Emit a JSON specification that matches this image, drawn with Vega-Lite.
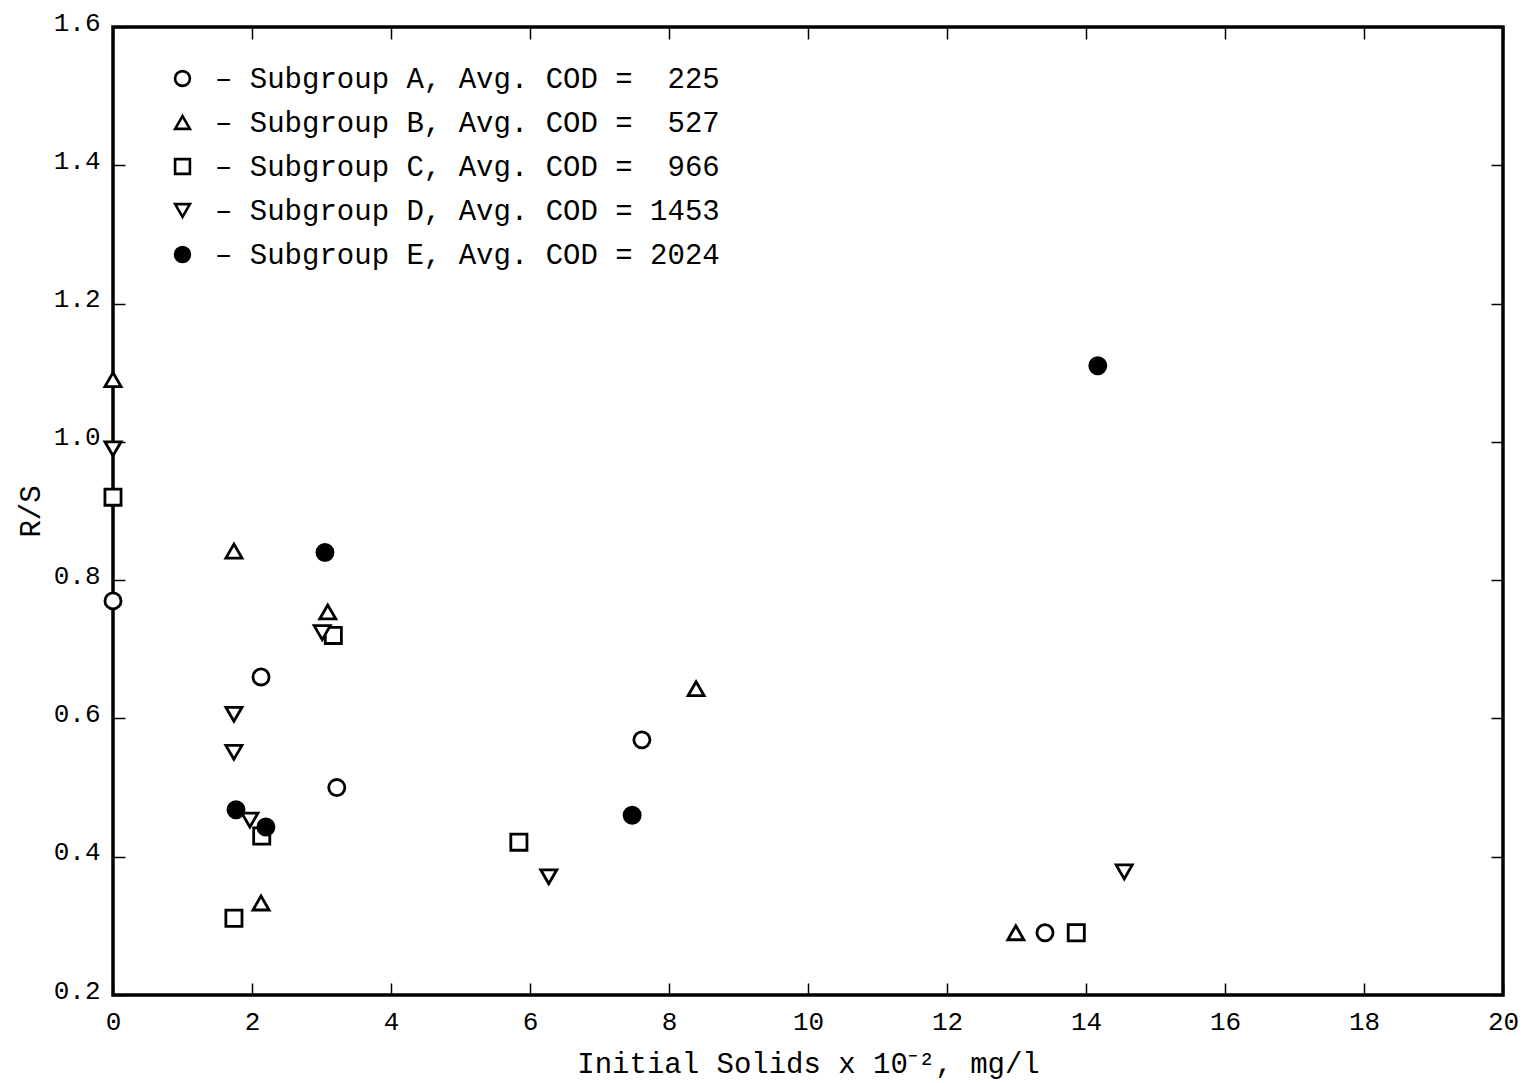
{
  "$schema": "https://vega.github.io/schema/vega-lite/v6.json",
  "autosize": {"type": "none"},
  "width": 1390,
  "height": 968,
  "padding": {"left": 113, "top": 27, "right": 21, "bottom": 88},
  "background": "white",
  "config": {
    "view": {"stroke": "black", "strokeWidth": 3.5},
    "font": "Liberation Mono",
    "axis": {
      "domain": false,
      "grid": false,
      "tickColor": "black",
      "tickWidth": 1.5,
      "tickSize": -12,
      "labelFont": "Liberation Mono",
      "labelFontSize": 26,
      "labelColor": "black",
      "titleFont": "Liberation Mono",
      "titleFontSize": 29,
      "titleFontWeight": "normal",
      "titleColor": "black"
    }
  },
  "data": {
    "values": [
      {"group": "A", "solids": 0.0, "rs": 0.77},
      {"group": "A", "solids": 2.13, "rs": 0.66},
      {"group": "A", "solids": 3.22, "rs": 0.50},
      {"group": "A", "solids": 7.61, "rs": 0.569},
      {"group": "A", "solids": 13.41, "rs": 0.29},
      {"group": "B", "solids": 0.0, "rs": 1.09},
      {"group": "B", "solids": 1.74, "rs": 0.842},
      {"group": "B", "solids": 2.13, "rs": 0.333},
      {"group": "B", "solids": 3.09, "rs": 0.754},
      {"group": "B", "solids": 8.39, "rs": 0.643},
      {"group": "B", "solids": 12.99, "rs": 0.29},
      {"group": "C", "solids": 0.0, "rs": 0.92},
      {"group": "C", "solids": 1.74, "rs": 0.311},
      {"group": "C", "solids": 2.14, "rs": 0.43},
      {"group": "C", "solids": 3.17, "rs": 0.72},
      {"group": "C", "solids": 5.84, "rs": 0.421},
      {"group": "C", "solids": 13.86, "rs": 0.29},
      {"group": "D", "solids": 0.0, "rs": 0.99},
      {"group": "D", "solids": 1.74, "rs": 0.606},
      {"group": "D", "solids": 1.74, "rs": 0.551},
      {"group": "D", "solids": 1.97, "rs": 0.453},
      {"group": "D", "solids": 3.01, "rs": 0.724},
      {"group": "D", "solids": 6.27, "rs": 0.371},
      {"group": "D", "solids": 14.55, "rs": 0.378},
      {"group": "E", "solids": 1.77, "rs": 0.468},
      {"group": "E", "solids": 2.2, "rs": 0.443},
      {"group": "E", "solids": 3.05, "rs": 0.84},
      {"group": "E", "solids": 7.47, "rs": 0.46},
      {"group": "E", "solids": 14.17, "rs": 1.11}
    ]
  },
  "layer": [
    {
      "mark": {"type": "point", "filled": true, "stroke": "black", "strokeWidth": 2.8, "size": 260, "opacity": 1},
      "encoding": {
        "x": {
          "field": "solids", "type": "quantitative",
          "scale": {"domain": [0, 20], "nice": false, "zero": false},
          "axis": {"orient": "bottom", "values": [0, 2, 4, 6, 8, 10, 12, 14, 16, 18, 20], "title": "Initial Solids x 10\u207b\u00b2, mg/l", "labelPadding": 25, "titlePadding": 15, "labelFlush": false}
        },
        "y": {
          "field": "rs", "type": "quantitative",
          "scale": {"domain": [0.2, 1.6], "nice": false, "zero": false},
          "axis": {"orient": "left", "values": [0.2, 0.4, 0.6, 0.8, 1.0, 1.2, 1.4, 1.6], "format": ".1f", "title": "R/S", "labelPadding": 25, "labelOffset": -5, "labelBaseline": "middle", "titlePadding": 8, "labelFlush": false}
        },
        "shape": {
          "field": "group", "type": "nominal",
          "scale": {"domain": ["A", "B", "C", "D", "E"], "range": ["circle", "triangle-up", "square", "triangle-down", "circle"]},
          "legend": {
            "title": null, "orient": "none", "legendX": 55, "legendY": 37, "padding": 0, "direction": "vertical",
            "symbolSize": 220, "labelOffset": 18, "symbolStrokeWidth": 2.6,
            "labelFont": "Liberation Mono", "labelFontSize": 29, "labelColor": "black", "rowPadding": 14, "labelLimit": 0,
            "encode": {"symbols": {"update": {"stroke": {"value": "black"}, "strokeWidth": {"value": 2.6}}}},
            "labelExpr": "'\u2013\u00a0' + (datum.label == 'A' ? 'Subgroup A, Avg. COD =\u00a0\u00a0225' : datum.label == 'B' ? 'Subgroup B, Avg. COD =\u00a0\u00a0527' : datum.label == 'C' ? 'Subgroup C, Avg. COD =\u00a0\u00a0966' : datum.label == 'D' ? 'Subgroup D, Avg. COD = 1453' : 'Subgroup E, Avg. COD = 2024')"
          }
        },
        "fill": {
          "field": "group", "type": "nominal",
          "scale": {"domain": ["A", "B", "C", "D", "E"], "range": ["white", "white", "white", "white", "black"]},
          "legend": {
            "title": null, "orient": "none", "legendX": 55, "legendY": 37, "padding": 0, "direction": "vertical",
            "symbolSize": 220, "labelOffset": 18, "symbolStrokeWidth": 2.6,
            "labelFont": "Liberation Mono", "labelFontSize": 29, "labelColor": "black", "rowPadding": 14, "labelLimit": 0,
            "encode": {"symbols": {"update": {"stroke": {"value": "black"}, "strokeWidth": {"value": 2.6}}}},
            "labelExpr": "'\u2013\u00a0' + (datum.label == 'A' ? 'Subgroup A, Avg. COD =\u00a0\u00a0225' : datum.label == 'B' ? 'Subgroup B, Avg. COD =\u00a0\u00a0527' : datum.label == 'C' ? 'Subgroup C, Avg. COD =\u00a0\u00a0966' : datum.label == 'D' ? 'Subgroup D, Avg. COD = 1453' : 'Subgroup E, Avg. COD = 2024')"
          }
        }
      }
    },
    {
      "mark": {"type": "point", "opacity": 0},
      "encoding": {
        "x": {
          "field": "solids", "type": "quantitative",
          "scale": {"domain": [0, 20], "nice": false, "zero": false},
          "axis": {"orient": "top", "values": [0, 2, 4, 6, 8, 10, 12, 14, 16, 18, 20], "labels": false, "title": null}
        },
        "y": {
          "field": "rs", "type": "quantitative",
          "scale": {"domain": [0.2, 1.6], "nice": false, "zero": false},
          "axis": {"orient": "right", "values": [0.2, 0.4, 0.6, 0.8, 1.0, 1.2, 1.4, 1.6], "labels": false, "title": null}
        }
      }
    }
  ],
  "resolve": {"axis": {"x": "independent", "y": "independent"}}
}
